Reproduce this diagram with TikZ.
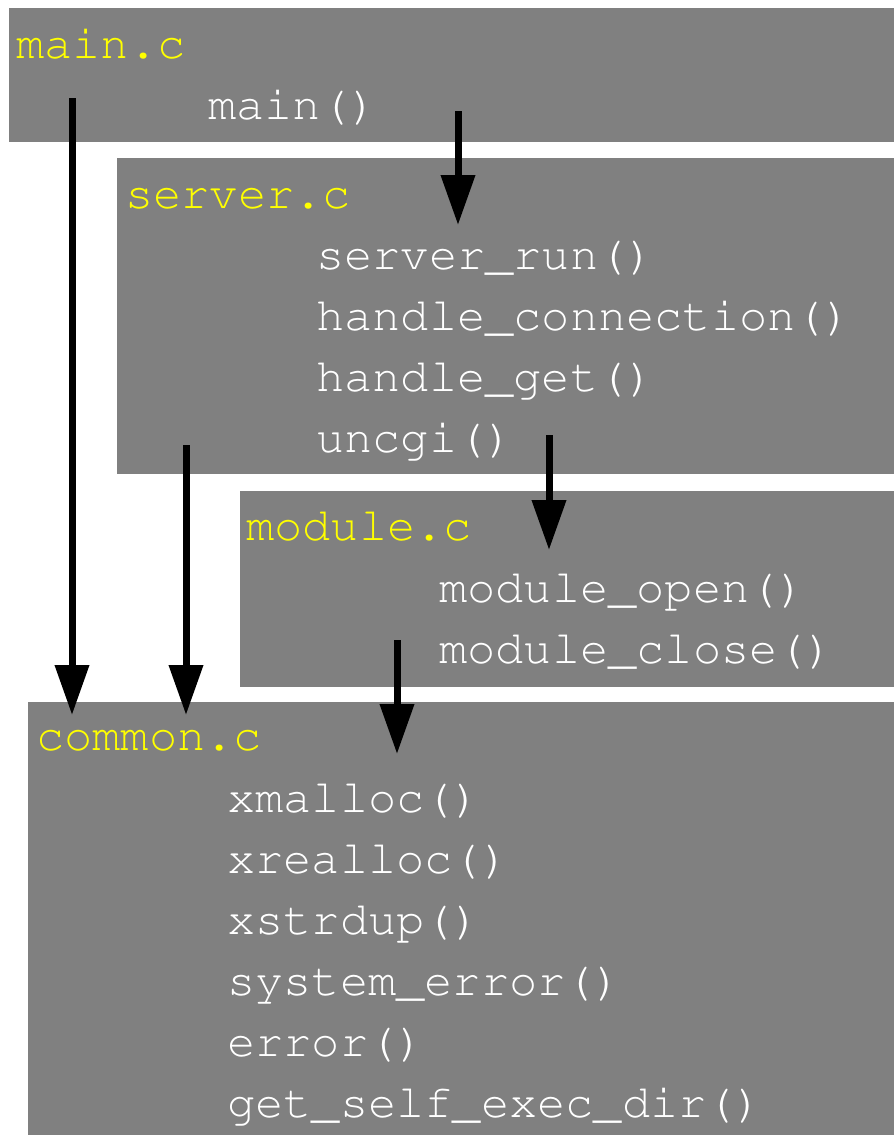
\documentclass[tikz,border=0pt]{standalone}
\usepackage[T1]{fontenc}
\usetikzlibrary{arrows.meta}
\definecolor{boxgray}{HTML}{808080}
\definecolor{fileyellow}{HTML}{FFFF00}
\tikzset{
  filebox/.style={fill=boxgray, draw=none, inner sep=0pt, anchor=north west},
  codefont/.style={font=\fontencoding{T1}\fontfamily{pcr}\fontsize{47}{56}\selectfont},
  filename/.style={codefont, text=fileyellow, inner sep=0pt, anchor=base west},
  func/.style={codefont, text=white, inner sep=0pt, anchor=base west},
  callarrow/.style={line width=7pt, -{Triangle[width=33pt,length=50pt]}}
}
\begin{document}
\begin{tikzpicture}[x=1pt,y=-1pt]
\useasboundingbox (0,0) rectangle (894,1135);
% boxes
\node[filebox, minimum width=885pt, minimum height=134pt] (mainbox) at (9,8) {};
\node[filebox, minimum width=777pt, minimum height=316pt] (serverbox) at (117,158) {};
\node[filebox, minimum width=654pt, minimum height=196pt] (modulebox) at (240,491) {};
\node[filebox, minimum width=866pt, minimum height=433pt] (commonbox) at (28,702) {};
% texts
\node[filename] (mainc) at (16,58) {main.c};
\node[func] (fmain) at (208,119) {main()};
\node[filename] (serverc) at (125,208) {server.c};
\node[func] (fsrun) at (316,269) {server\_run()};
\node[func] (fhconn) at (316,330) {handle\_connection()};
\node[func] (fhget) at (316,391) {handle\_get()};
\node[func] (funcgi) at (316,452) {uncgi()};
\node[filename] (modulec) at (246,540) {module.c};
\node[func] (fmopen) at (439,602) {module\_open()};
\node[func] (fmclose) at (439,663) {module\_close()};
\node[filename] (commonc) at (36,750) {common.c};
\node[func] (fxmalloc) at (227,812) {xmalloc()};
\node[func] (fxrealloc) at (227,873) {xrealloc()};
\node[func] (fxstrdup) at (227,934) {xstrdup()};
\node[func] (fsyserr) at (227,995) {system\_error()};
\node[func] (ferror) at (227,1056) {error()};
\node[func] (fgetself) at (227,1117) {get\_self\_exec\_dir()};
% arrow end points
\coordinate (a1s) at (72,98);   \coordinate (a1e) at (72,715);
\coordinate (a2s) at (458,111); \coordinate (a2e) at (458,225);
\coordinate (a3s) at (186,445); \coordinate (a3e) at (186,715);
\coordinate (a4s) at (549,435); \coordinate (a4e) at (549,550);
\coordinate (a5s) at (397,640); \coordinate (a5e) at (397,754);
% arrows
\draw[callarrow] (a1s) -- (a1e);
\draw[callarrow] (a2s) -- (a2e);
\draw[callarrow] (a3s) -- (a3e);
\draw[callarrow] (a4s) -- (a4e);
\draw[callarrow] (a5s) -- (a5e);
\end{tikzpicture}
\end{document}
